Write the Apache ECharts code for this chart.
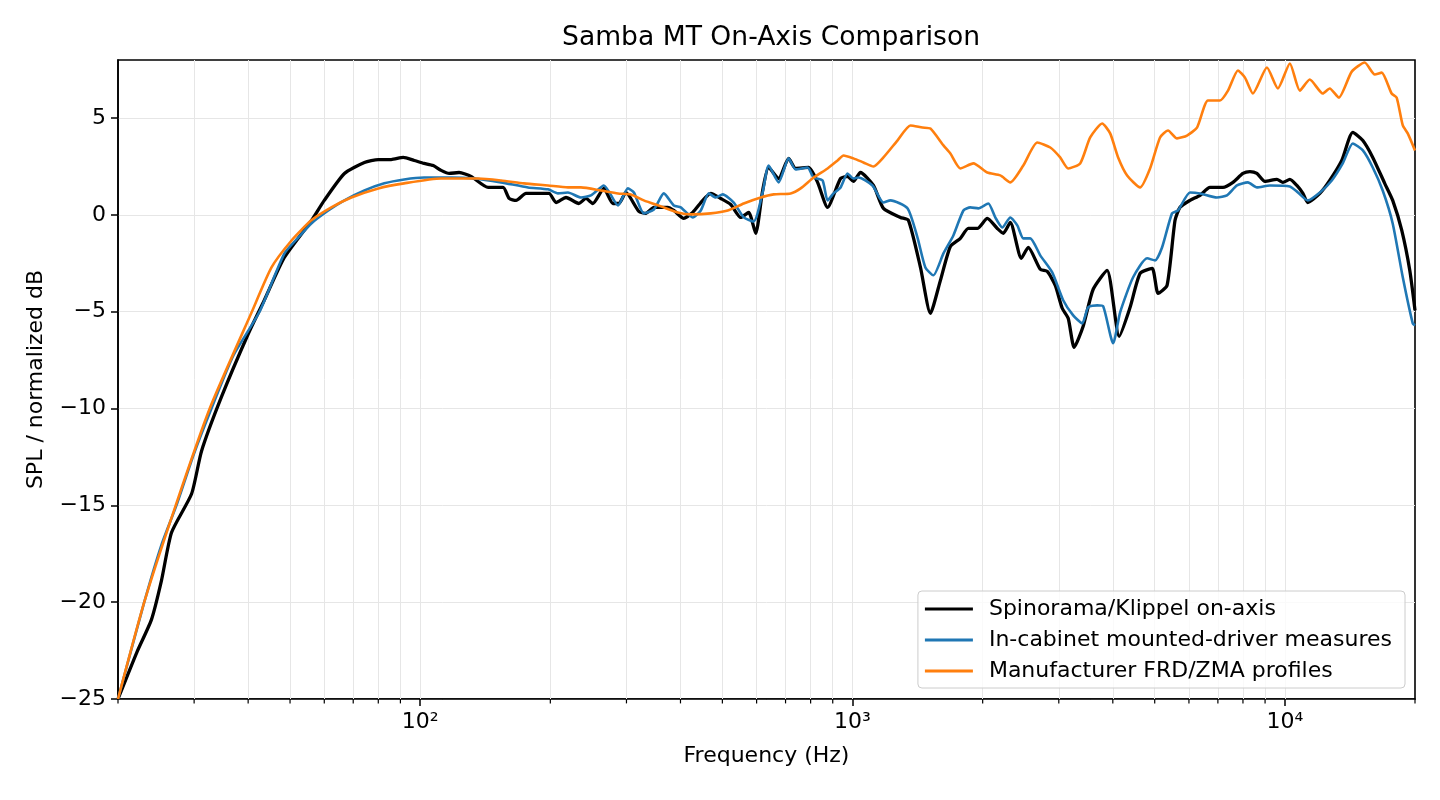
<!DOCTYPE html>
<html><head><meta charset="utf-8">
<script src="https://cdn.jsdelivr.net/npm/echarts@6/dist/echarts.min.js"></script>
<style>html,body{margin:0;padding:0;background:#fff}#c{width:1440px;height:800px}</style>
</head><body><div id="c"></div>
<script>
// [frequency Hz, SPL dB]
const spinorama = [
[20,-25.0],[22.1,-22.6],[23.9,-20.9],[25.2,-18.9],[26.6,-16.4],[29.6,-14.4],[31.2,-12.2],[34.7,-9.4],
[40.1,-6.1],[43.6,-4.4],[48.5,-2.2],[56.0,-0.3],[60.0,0.75],[66.8,2.14],[74.3,2.71],[80.0,2.86],
[85.7,2.86],[91.4,2.97],[96.9,2.81],[102.1,2.66],[107.2,2.55],[111.8,2.30],[116.7,2.14],[123.0,2.19],
[131.1,1.99],[143.6,1.42],[155.5,1.42],[160.6,0.85],[166.7,0.75],[175.7,1.11],[198.6,1.11],[206.2,0.64],
[217.4,0.90],[232.9,0.59],[241.7,0.85],[250.9,0.59],[266.0,1.37],[279.1,0.59],[288.2,0.59],[299.1,1.16],
[320.5,0.18],[332.6,0.08],[347.1,0.39],[373.9,0.39],[386.0,0.23],[407.1,-0.18],[427.0,0.13],[450.4,0.75],
[470.0,1.11],[495.6,0.85],[522.7,0.54],[551.2,-0.13],[575.2,0.13],[597.0,-0.95],[619.6,1.26],[639.7,2.45],
[674.7,1.88],[711.6,2.92],[738.6,2.40],[791.4,2.45],[830.2,1.68],[875.6,0.39],[938.3,1.88],[973.8,1.99],
[1005,1.73],[1043,2.19],[1118,1.52],[1179,0.34],[1291,-0.13],[1347,-0.28],[1436,-2.71],[1514,-5.08],
[1597,-3.38],[1684,-1.63],[1776,-1.21],[1853,-0.70],[1944,-0.70],[2050,-0.18],[2162,-0.70],[2232,-0.95],
[2317,-0.39],[2457,-2.24],[2550,-1.68],[2718,-2.81],[2821,-2.92],[2944,-3.64],[3055,-4.82],[3154,-5.34],
[3256,-6.84],[3416,-5.75],[3603,-3.84],[3880,-2.86],[4138,-6.27],[4386,-4.77],[4626,-3.02],[4932,-2.76],
[5090,-4.05],[5340,-3.64],[5572,-0.28],[5722,0.39],[6034,0.75],[6364,1.01],[6711,1.42],[7192,1.42],
[7585,1.68],[7998,2.14],[8304,2.24],[8617,2.14],[8993,1.73],[9585,1.83],[9895,1.68],[10270,1.83],
[10660,1.52],[11010,1.11],[11300,0.64],[12050,1.11],[12700,1.78],[13540,2.81],[14360,4.26],[15150,3.84],
[15970,2.97],[17020,1.63],[17760,0.75],[18640,-0.80],[19450,-2.86],[20000,-4.93]
];
const cabinet = [
[20,-25.0],[23.0,-20.0],[25.2,-17.05],[27.3,-15.0],[29.9,-12.4],[32.9,-10.0],[37.0,-7.25],[42.5,-5.0],
[48.5,-2.0],[52.3,-1.16],[56.0,-0.44],[61.3,0.23],[66.8,0.75],[74.3,1.26],[82.6,1.63],[91.8,1.83],
[102.1,1.93],[111.8,1.93],[117.9,1.93],[133.2,1.88],[153.8,1.68],[177.6,1.42],[197.5,1.32],[208.3,1.11],
[219.7,1.16],[235.4,0.90],[248.3,1.01],[266.0,1.52],[286.7,0.49],[302.3,1.37],[312.1,1.16],[329.0,0.08],
[347.1,0.28],[366.1,1.11],[386.0,0.49],[400.6,0.39],[427.0,-0.13],[445.7,0.23],[465.1,1.11],[482.7,0.90],
[501.0,1.06],[531.3,0.64],[560.2,-0.13],[590.9,-0.34],[619.6,1.16],[639.7,2.55],[674.7,1.68],[711.6,2.92],
[738.6,2.35],[787.1,2.45],[812.7,1.93],[852.4,1.78],[875.6,0.75],[903.7,1.11],[938.3,1.42],[973.8,2.14],
[1005,1.88],[1032,1.93],[1112,1.52],[1179,0.64],[1224,0.75],[1340,0.34],[1413,-1.16],[1474,-2.71],
[1538,-3.12],[1623,-1.99],[1711,-1.06],[1805,0.23],[1873,0.39],[1954,0.34],[2061,0.59],[2139,-0.13],
[2220,-0.65],[2317,-0.13],[2405,-0.54],[2483,-1.21],[2577,-1.21],[2718,-2.09],[2897,-2.97],[3071,-4.41],
[3239,-5.19],[3398,-5.60],[3509,-4.77],[3681,-4.67],[3800,-4.72],[4007,-6.63],[4159,-5.03],[4457,-3.22],
[4801,-2.24],[5009,-2.35],[5199,-1.68],[5483,0.08],[5661,0.23],[6034,1.16],[6364,1.11],[6966,0.90],
[7348,1.01],[7749,1.52],[8212,1.68],[8617,1.42],[9235,1.52],[10270,1.47],[10720,1.16],[11300,0.75],
[12050,1.16],[12840,1.78],[13610,2.66],[14360,3.69],[15150,3.33],[15970,2.45],[16840,1.26],[17760,-0.44],
[18740,-3.22],[19760,-5.60],[20000,-5.70]
];
const manufacturer = [
[20,-25.0],[23.0,-20.0],[27.2,-15.0],[32.6,-10.0],[40.8,-5.0],[45.3,-2.71],[50.4,-1.32],[56.0,-0.28],
[62.3,0.39],[69.3,0.90],[80.0,1.37],[91.8,1.63],[111.8,1.88],[117.9,1.88],[136.1,1.88],[153.8,1.78],
[173.9,1.63],[197.5,1.52],[219.7,1.42],[235.4,1.42],[261.8,1.26],[286.7,1.11],[307.2,1.06],[329.0,0.75],
[360.3,0.44],[394.3,0.13],[422.6,0.03],[470.0,0.08],[514.6,0.23],[560.2,0.59],[613.3,0.90],[657.0,1.06],
[719.2,1.11],[758.6,1.37],[812.7,1.93],[875.6,2.40],[923.3,2.81],[953.5,3.07],[1005,2.92],[1060,2.71],
[1118,2.50],[1179,2.97],[1270,3.84],[1361,4.62],[1451,4.51],[1514,4.46],[1623,3.59],[1684,3.17],
[1776,2.40],[1903,2.66],[2050,2.19],[2197,2.04],[2317,1.68],[2483,2.55],[2675,3.74],[2867,3.48],
[3022,2.97],[3154,2.40],[3362,2.66],[3546,4.00],[3780,4.72],[3944,4.21],[4115,2.97],[4317,2.04],
[4626,1.42],[4878,2.40],[5144,4.00],[5368,4.36],[5631,3.95],[5938,4.10],[6263,4.51],[6640,5.91],
[7079,5.91],[7387,6.42],[7790,7.46],[8086,7.09],[8436,6.27],[9090,7.61],[9636,6.53],[10270,7.82],
[10830,6.42],[11420,6.99],[12240,6.27],[12700,6.53],[13330,6.06],[14280,7.40],[15300,7.87],[16140,7.25],
[16750,7.35],[17660,6.27],[18140,6.06],[18740,4.62],[19240,4.21],[20000,3.33]
];
const seriesNames = ['Spinorama/Klippel on-axis','In-cabinet mounted-driver measures','Manufacturer FRD/ZMA profiles'];
const seriesColors = ['#000000','#1f77b4','#ff7f0e'];
const xTicks = [100, 1000, 10000];
const xTickLabels = ['10²', '10³', '10⁴'];
const yTicks = [-25, -20, -15, -10, -5, 0, 5];
const xGridFreqs = [30,40,50,60,70,80,90,100,200,300,400,500,600,700,800,900,1000,2000,3000,4000,5000,6000,7000,8000,9000,10000];
const xMinorTicks = [20,30,40,50,60,70,80,90,200,300,400,500,600,700,800,900,2000,3000,4000,5000,6000,7000,8000,9000,20000];

const FONT = 'DejaVu Sans';
const chart = echarts.init(document.getElementById('c'), null, {renderer: 'canvas'});
const seriesData = [spinorama, cabinet, manufacturer];
const widths = [3.3, 2.6, 2.6];

const option = {
  animation: false,
  backgroundColor: '#ffffff',
  title: {
    text: 'Samba MT On-Axis Comparison',
    left: 766, top: 20, textAlign: 'center',
    textStyle: {fontFamily: FONT, fontSize: 26.6, fontWeight: 'normal', color: '#000'}
  },
  grid: {left: 118, right: 25, top: 60, bottom: 101, show: true, borderColor: '#000', borderWidth: 1.6, backgroundColor: 'transparent'},
  legend: {
    data: seriesNames.map(n => ({name: n, icon: 'rect'})),
    orient: 'vertical', right: 35, bottom: 112,
    align: 'left',
    itemWidth: 48, itemHeight: 3.2, itemGap: 7,
    padding: [6, 13, 5, 7],
    backgroundColor: 'rgba(255,255,255,0.8)',
    borderColor: '#cccccc', borderWidth: 1, borderRadius: 4,
    textStyle: {fontFamily: FONT, fontSize: 22, color: '#000', lineHeight: 24, padding: [0, 0, 0, 11]}
  },
  xAxis: {
    type: 'log', logBase: 10, min: 20, max: 20000,
    name: 'Frequency (Hz)', nameLocation: 'middle', nameGap: 46,
    nameTextStyle: {fontFamily: FONT, fontSize: 22, color: '#000'},
    axisLine: {show: true, onZero: false, lineStyle: {color: '#000', width: 1.6}},
    axisTick: {show: true, inside: false, length: 7, lineStyle: {color: '#000', width: 1.5}},
    axisLabel: {
      show: true, margin: 12, showMinLabel: false, showMaxLabel: false,
      fontFamily: FONT, fontSize: 22, color: '#000',
      formatter: function (v) {
        const i = xTicks.findIndex(t => Math.abs(Math.log10(t) - Math.log10(v)) < 1e-6);
        return i >= 0 ? xTickLabels[i] : '';
      }
    },
    splitLine: {show: false}
  },
  yAxis: {
    type: 'value', min: -25, max: 8, interval: 5,
    name: 'SPL / normalized dB', nameLocation: 'middle', nameGap: 71,
    nameTextStyle: {fontFamily: FONT, fontSize: 22, color: '#000'},
    axisLine: {show: true, onZero: false, lineStyle: {color: '#000', width: 1.6}},
    axisTick: {show: true, inside: false, length: 7, customValues: yTicks, lineStyle: {color: '#000', width: 1.5}},
    axisLabel: {
      show: true, margin: 12, customValues: yTicks,
      fontFamily: FONT, fontSize: 22, color: '#000',
      formatter: v => (v < 0 ? '\u2212' + Math.abs(v) : String(v))
    },
    splitLine: {show: true, lineStyle: {color: '#e6e6e6', width: 1}}
  },
  series: [
    {
      type: 'line', name: '__grid', data: [], silent: true,
      markLine: {
        silent: true, symbol: ['none', 'none'], label: {show: false}, z: 1,
        lineStyle: {color: '#e6e6e6', width: 1, type: 'solid'},
        emphasis: {disabled: true},
        data: xGridFreqs.map(f => ({xAxis: f}))
      }
    }
  ].concat(seriesData.map((d, i) => ({
    type: 'line', name: seriesNames[i], data: d,
    symbol: 'none', showSymbol: false, smooth: 0.2,
    clip: true, z: 2 + i,
    lineStyle: {color: seriesColors[i], width: widths[i]},
    itemStyle: {color: seriesColors[i]},
    emphasis: {disabled: true}
  })))
};
chart.setOption(option);

// minor ticks on the log axis, positioned by the axis scale
const yBase = chart.convertToPixel({yAxisIndex: 0}, -25);
const minorEls = xMinorTicks.map(f => {
  const x = chart.convertToPixel({xAxisIndex: 0}, f);
  return {type: 'line', silent: true, z: 10,
    shape: {x1: x, y1: yBase, x2: x, y2: yBase + 4.4},
    style: {stroke: '#000', lineWidth: 1.2}};
});
chart.setOption({graphic: minorEls});
</script>
</body></html>
